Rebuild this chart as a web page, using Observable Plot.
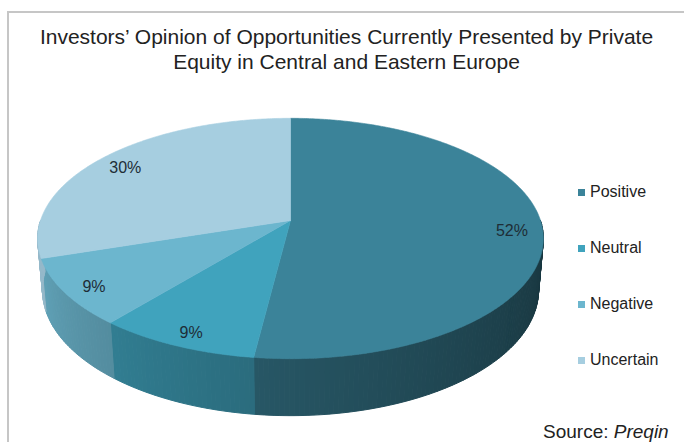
<!DOCTYPE html>
<html>
<head>
<meta charset="utf-8">
<script src="https://cdn.jsdelivr.net/npm/d3@7"></script>
<script src="https://cdn.jsdelivr.net/npm/@observablehq/plot@0.6"></script>
<style>
  html, body { margin: 0; padding: 0; background: #fff; }
  body { width: 684px; height: 442px; overflow: hidden; position: relative;
         font-family: "Liberation Sans", Arial, sans-serif; color: #222; }
  #chart { position: absolute; left: 0; top: 0; }
  #frame { position: absolute; left: 7px; top: 11px; width: 720px; height: 480px;
           border-left: 2px solid #c6c6c6; border-top: 2px solid #c6c6c6; pointer-events: none; }
  #title { position: absolute; left: 9px; width: 675px; top: 24px; text-align: center;
           font-size: 21px; line-height: 25px; color: #222; }
  #legend { position: absolute; left: 578px; top: 0; }
  .item { position: absolute; left: 0; white-space: nowrap; font-size: 16px; line-height: 18px; color: #222; }
  .sw { position: absolute; left: 0; top: 6px; width: 7px; height: 7px; }
  .lt { position: absolute; left: 12px; top: 0; }
  #source { position: absolute; left: 543px; top: 421px; font-size: 19px; line-height: 22px; white-space: nowrap; color: #222; }
</style>
</head>
<body>
<div id="chart"></div>
<div id="frame"></div>
<div id="title">Investors’ Opinion of Opportunities Currently Presented by Private<br>Equity in Central and Eastern Europe</div>
<div id="legend"></div>
<div id="source">Source: <i>Preqin</i></div>
<script>
const categories = ["Positive", "Neutral", "Negative", "Uncertain"];
const values = [52, 9, 9, 30];
const valueLabels = ["52%", "9%", "9%", "30%"];
const colors = ["#3b8399", "#40a3bd", "#6cb6ce", "#a6cee0"];

// 3D perspective pie geometry
const tilt = Math.asin(0.47), S = Math.sin(tilt), C = Math.cos(tilt);
const D = 5.89, H = 0.236;
const proj = (X, Y, Z) => { const depth = D + Y * C - Z * S; return [X * D / depth, (Y * S + Z * C) * D / depth]; };
const rim = (th, r, Z) => proj(r * Math.sin(th), r * Math.cos(th), Z);
const rad = Math.PI / 180;

const total = d3.sum(values);
const arcs = [];
let acc = 0;
values.forEach((v, i) => {
  const a0 = acc / total * 2 * Math.PI; acc += v;
  const a1 = acc / total * 2 * Math.PI;
  arcs.push({i, a0, a1});
});

const tops = [], walls = [];
for (const {i, a0, a1} of arcs) {
  const pts = [proj(0, 0, 0)];
  const n = Math.max(2, Math.ceil((a1 - a0) / (0.5 * rad)));
  for (let k = 0; k <= n; k++) pts.push(rim(a0 + (a1 - a0) * k / n, 1, 0));
  pts.push(proj(0, 0, 0));
  pts.forEach(([x, y]) => tops.push({id: "t" + i, x, y, c: colors[i]}));
  const w0 = Math.max(a0, 90 * rad), w1 = Math.min(a1, 270 * rad);
  if (w1 > w0) {
    const m = Math.max(1, Math.ceil((w1 - w0) / (1 * rad)));
    const base = d3.rgb(colors[i]);
    for (let k = 0; k < m; k++) {
      const b0 = w0 + (w1 - w0) * k / m, b1 = w0 + (w1 - w0) * (k + 1) / m;
      const t = ((b0 + b1) / 2 / rad - 90) / 180;
      const f = Math.min(0.9, 0.4 + 0.55 * Math.pow(t, 1.2));
      const col = d3.rgb(base.r * f, base.g * f, base.b * f).formatHex();
      const id = `w${i}_${k}`;
      [rim(b0, 1, 0), rim(b1, 1, 0), rim(b1, 1, -H), rim(b0, 1, -H), rim(b0, 1, 0)]
        .forEach(([x, y]) => walls.push({id, x, y, c: col}));
    }
  }
}

const labelRows = arcs.map(({i, a0, a1}) => {
  const [x, y] = rim((a0 + a1) / 2, 0.88, 0);
  return {x, y, label: valueLabels[i]};
});

const plot = Plot.plot({
  width: 684,
  height: 442,
  margin: 0,
  x: {domain: [-1, 1], range: [40, 540], axis: null},
  y: {domain: [-1, 1], range: [470, -30], axis: null},
  color: {type: "identity"},
  style: {background: "transparent", fontFamily: "'Liberation Sans', Arial, sans-serif"},
  marks: [
    Plot.line(walls, {x: "x", y: "y", z: "id", fill: "c", stroke: "c", strokeWidth: 1, strokeLinejoin: "round"}),
    Plot.line(tops, {x: "x", y: "y", z: "id", fill: "c", stroke: "c", strokeWidth: 0.6, strokeLinejoin: "round"}),
    Plot.text(labelRows, {x: "x", y: "y", dy: 4, text: "label", fill: "#1e2d36", fontSize: 16})
  ]
});
document.getElementById("chart").appendChild(plot);

const legend = document.getElementById("legend");
categories.forEach((name, i) => {
  const item = document.createElement("div");
  item.className = "item";
  item.style.top = (183 + i * 56) + "px";
  const sw = document.createElement("span");
  sw.className = "sw";
  sw.style.background = colors[i];
  const lt = document.createElement("span");
  lt.className = "lt";
  lt.textContent = name;
  item.appendChild(sw);
  item.appendChild(lt);
  legend.appendChild(item);
});
</script>
</body>
</html>
